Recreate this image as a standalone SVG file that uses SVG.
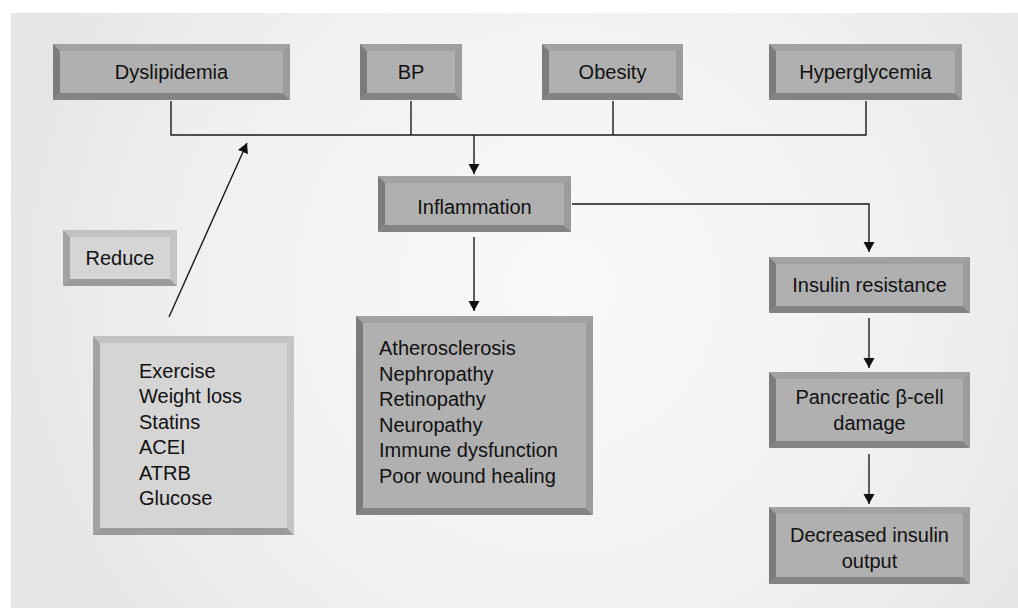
<svg xmlns="http://www.w3.org/2000/svg" width="1018" height="608" viewBox="0 0 1018 608">
<defs>
<radialGradient id="bg" cx="560" cy="290" r="560" gradientUnits="userSpaceOnUse">
<stop offset="0" stop-color="#f9f9f9"/>
<stop offset="0.6" stop-color="#f1f1f1"/>
<stop offset="1" stop-color="#e6e6e6"/>
</radialGradient>
<marker id="ah" markerUnits="userSpaceOnUse" markerWidth="10" markerHeight="16" viewBox="0 0 10 16" refX="10" refY="8" orient="auto">
<path d="M0,2.5 L10,8 L0,13.5 Z" fill="#111"/>
</marker>
</defs>
<style>
.face{fill:#b0b0b0}
.t{fill:#a2a2a2}.l{fill:#7c7c7c}.b{fill:#838383}.r{fill:#9c9c9c}
.lt .face{fill:#d5d5d5}
.lt .t{fill:#c2c2c2}.lt .l{fill:#a2a2a2}.lt .b{fill:#9a9a9a}.lt .r{fill:#c4c4c4}
text{font-family:"Liberation Sans",Arial,Helvetica,sans-serif;font-size:20px;fill:#111}
.c{text-anchor:middle}
.ln{fill:none;stroke:#1a1a1a;stroke-width:1.4}
</style>
<rect x="0" y="0" width="1018" height="608" fill="#ffffff"/>
<rect x="11" y="13" width="1007" height="595" fill="url(#bg)"/>

<g id="connectors">
<polyline class="ln" points="171,101 171,135 866,135 866,101"/>
<line class="ln" x1="411" y1="101" x2="411" y2="135"/>
<line class="ln" x1="613" y1="101" x2="613" y2="135"/>
<line class="ln" x1="474" y1="135" x2="474" y2="174" marker-end="url(#ah)"/>
<polyline class="ln" points="572,204 869,204 869,252" marker-end="url(#ah)"/>
<line class="ln" x1="474" y1="237" x2="474" y2="311" marker-end="url(#ah)"/>
<line class="ln" x1="869" y1="318" x2="869" y2="368" marker-end="url(#ah)"/>
<line class="ln" x1="869" y1="454" x2="869" y2="504" marker-end="url(#ah)"/>
<line class="ln" x1="169" y1="317" x2="247" y2="143" marker-end="url(#ah)"/>
</g>

<g id="dyslipidemia">
<rect class="face" x="53" y="44" width="237" height="56"/>
<polygon class="t" points="53,44 290,44 283,51 60,51"/>
<polygon class="l" points="53,44 60,51 60,93 53,100"/>
<polygon class="b" points="53,100 60,93 283,93 290,100"/>
<polygon class="r" points="290,44 290,100 283,93 283,51"/>
<text class="c" x="171.5" y="79">Dyslipidemia</text>
</g>

<g id="bp">
<rect class="face" x="360" y="44" width="102" height="56"/>
<polygon class="t" points="360,44 462,44 455,51 367,51"/>
<polygon class="l" points="360,44 367,51 367,93 360,100"/>
<polygon class="b" points="360,100 367,93 455,93 462,100"/>
<polygon class="r" points="462,44 462,100 455,93 455,51"/>
<text class="c" x="411" y="79">BP</text>
</g>

<g id="obesity">
<rect class="face" x="542" y="44" width="141" height="56"/>
<polygon class="t" points="542,44 683,44 676,51 549,51"/>
<polygon class="l" points="542,44 549,51 549,93 542,100"/>
<polygon class="b" points="542,100 549,93 676,93 683,100"/>
<polygon class="r" points="683,44 683,100 676,93 676,51"/>
<text class="c" x="612.5" y="79">Obesity</text>
</g>

<g id="hyperglycemia">
<rect class="face" x="769" y="44" width="193" height="56"/>
<polygon class="t" points="769,44 962,44 955,51 776,51"/>
<polygon class="l" points="769,44 776,51 776,93 769,100"/>
<polygon class="b" points="769,100 776,93 955,93 962,100"/>
<polygon class="r" points="962,44 962,100 955,93 955,51"/>
<text class="c" x="865.5" y="79">Hyperglycemia</text>
</g>

<g id="inflammation">
<rect class="face" x="378" y="176" width="193" height="56"/>
<polygon class="t" points="378,176 571,176 564,183 385,183"/>
<polygon class="l" points="378,176 385,183 385,225 378,232"/>
<polygon class="b" points="378,232 385,225 564,225 571,232"/>
<polygon class="r" points="571,176 571,232 564,225 564,183"/>
<text class="c" x="474.5" y="214">Inflammation</text>
</g>

<g id="reduce" class="lt">
<rect class="face" x="63" y="230" width="114" height="56"/>
<polygon class="t" points="63,230 177,230 170,237 70,237"/>
<polygon class="l" points="63,230 70,237 70,279 63,286"/>
<polygon class="b" points="63,286 70,279 170,279 177,286"/>
<polygon class="r" points="177,230 177,286 170,279 170,237"/>
<text class="c" x="120" y="265">Reduce</text>
</g>

<g id="interventions" class="lt">
<rect class="face" x="93" y="336" width="201" height="199"/>
<polygon class="t" points="93,336 294,336 287,343 100,343"/>
<polygon class="l" points="93,336 100,343 100,528 93,535"/>
<polygon class="b" points="93,535 100,528 287,528 294,535"/>
<polygon class="r" points="294,336 294,535 287,528 287,343"/>
<text x="139" y="377.5">Exercise</text>
<text x="139" y="403">Weight loss</text>
<text x="139" y="428.5">Statins</text>
<text x="139" y="454">ACEI</text>
<text x="139" y="479.5">ATRB</text>
<text x="139" y="505">Glucose</text>
</g>

<g id="complications">
<rect class="face" x="356" y="316" width="237" height="199"/>
<polygon class="t" points="356,316 593,316 586,323 363,323"/>
<polygon class="l" points="356,316 363,323 363,508 356,515"/>
<polygon class="b" points="356,515 363,508 586,508 593,515"/>
<polygon class="r" points="593,316 593,515 586,508 586,323"/>
<text x="379" y="355">Atherosclerosis</text>
<text x="379" y="380.6">Nephropathy</text>
<text x="379" y="406.2">Retinopathy</text>
<text x="379" y="431.8">Neuropathy</text>
<text x="379" y="457.4">Immune dysfunction</text>
<text x="379" y="483">Poor wound healing</text>
</g>

<g id="insulin-resistance">
<rect class="face" x="769" y="257" width="201" height="56"/>
<polygon class="t" points="769,257 970,257 963,264 776,264"/>
<polygon class="l" points="769,257 776,264 776,306 769,313"/>
<polygon class="b" points="769,313 776,306 963,306 970,313"/>
<polygon class="r" points="970,257 970,313 963,306 963,264"/>
<text class="c" x="869.5" y="292">Insulin resistance</text>
</g>

<g id="beta-cell">
<rect class="face" x="769" y="372" width="201" height="76"/>
<polygon class="t" points="769,372 970,372 963,379 776,379"/>
<polygon class="l" points="769,372 776,379 776,441 769,448"/>
<polygon class="b" points="769,448 776,441 963,441 970,448"/>
<polygon class="r" points="970,372 970,448 963,441 963,379"/>
<text class="c" x="869.5" y="404">Pancreatic β-cell</text>
<text class="c" x="869.5" y="430">damage</text>
</g>

<g id="decreased-output">
<rect class="face" x="769" y="507" width="201" height="77"/>
<polygon class="t" points="769,507 970,507 963,514 776,514"/>
<polygon class="l" points="769,507 776,514 776,577 769,584"/>
<polygon class="b" points="769,584 776,577 963,577 970,584"/>
<polygon class="r" points="970,507 970,584 963,577 963,514"/>
<text class="c" x="869.5" y="542">Decreased insulin</text>
<text class="c" x="869.5" y="568">output</text>
</g>
</svg>
